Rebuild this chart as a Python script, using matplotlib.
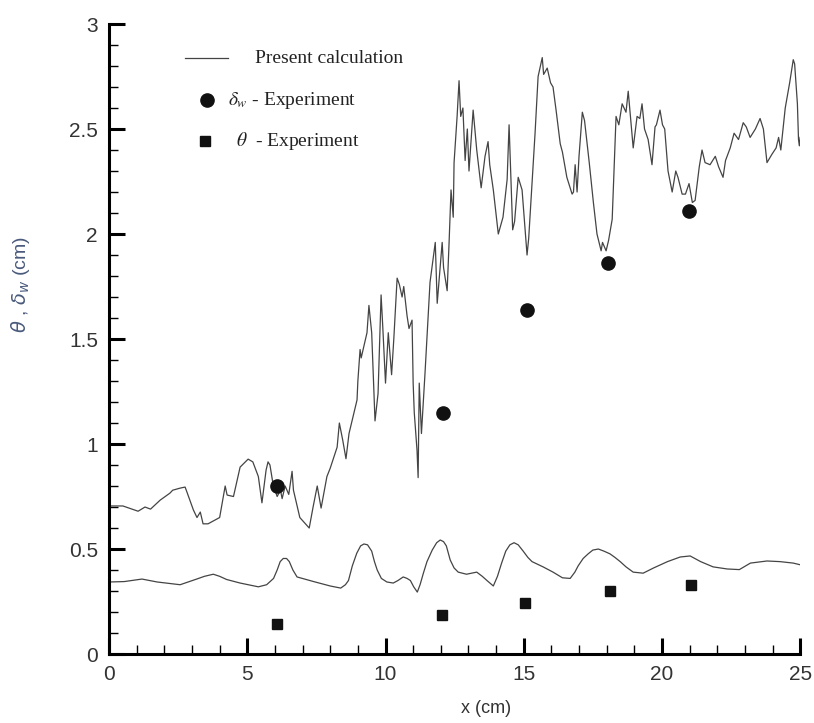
import matplotlib
matplotlib.use('Agg')
import matplotlib.pyplot as plt
from matplotlib.ticker import MultipleLocator

# present calculation, upper curve (delta_w)
x_delta = [0.0, 0.5, 1.05, 1.3, 1.5, 1.85, 2.2, 2.3, 2.57, 2.75, 2.82, 3.05, 3.18, 3.3, 3.4, 3.58,
           4.0, 4.2, 4.27, 4.5, 4.74, 5.03, 5.2, 5.4, 5.53, 5.68, 5.75, 5.82, 5.93, 6.08, 6.2, 6.26,
           6.37, 6.5, 6.62, 6.67, 6.9, 7.24, 7.38, 7.53, 7.67, 7.88, 8.0, 8.25, 8.33, 8.45, 8.57,
           8.68, 8.97, 9.0, 9.08, 9.12, 9.33, 9.4, 9.5, 9.62, 9.73, 9.84, 9.9, 10.0, 10.1, 10.22,
           10.3, 10.42, 10.5, 10.6, 10.66, 10.78, 10.85, 10.96, 11.0, 11.04, 11.14, 11.18, 11.22,
           11.3, 11.43, 11.61, 11.8, 11.87, 12.05, 12.1, 12.23, 12.3, 12.37, 12.45, 12.48, 12.59,
           12.66, 12.72, 12.8, 12.88, 12.96, 13.02, 13.17, 13.3, 13.46, 13.6, 13.71, 13.77, 13.9,
           14.08, 14.25, 14.4, 14.47, 14.6, 14.67, 14.8, 14.94, 15.12, 15.18, 15.41, 15.52, 15.67,
           15.72, 15.85, 15.97, 16.06, 16.17, 16.32, 16.4, 16.56, 16.75, 16.8, 16.86, 16.93, 17.0,
           17.12, 17.2, 17.37, 17.52, 17.65, 17.8, 17.85, 17.98, 18.07, 18.2, 18.34, 18.44, 18.56,
           18.7, 18.78, 18.86, 18.96, 19.1, 19.2, 19.28, 19.37, 19.5, 19.64, 19.75, 19.8, 19.93,
           20.02, 20.1, 20.22, 20.37, 20.5, 20.58, 20.73, 20.85, 20.98, 21.1, 21.2, 21.35, 21.45,
           21.56, 21.74, 21.93, 22.05, 22.21, 22.3, 22.47, 22.61, 22.77, 22.94, 23.05, 23.19,
           23.38, 23.55, 23.67, 23.8, 23.98, 24.13, 24.22, 24.3, 24.46, 24.62, 24.75, 24.8, 24.9,
           24.94, 24.97, 25.0]
y_delta = [0.705, 0.705, 0.68, 0.70, 0.69, 0.733, 0.766, 0.78, 0.79, 0.795, 0.77, 0.686, 0.65, 0.676,
           0.62, 0.62, 0.65, 0.80, 0.757, 0.75, 0.89, 0.928, 0.915, 0.845, 0.72, 0.876, 0.915, 0.90,
           0.81, 0.75, 0.78, 0.74, 0.80, 0.76, 0.87, 0.78, 0.65, 0.60, 0.70, 0.80, 0.695, 0.845,
           0.885, 0.985, 1.10, 1.02, 0.93, 1.05, 1.21, 1.30, 1.45, 1.41, 1.53, 1.66, 1.53, 1.11,
           1.24, 1.71, 1.56, 1.29, 1.53, 1.33, 1.50, 1.79, 1.76, 1.70, 1.75, 1.61, 1.55, 1.59,
           1.29, 1.15, 0.97, 0.84, 1.29, 1.05, 1.34, 1.77, 1.96, 1.67, 1.96, 1.84, 1.73, 1.96,
           2.21, 2.08, 2.34, 2.56, 2.73, 2.56, 2.60, 2.35, 2.50, 2.30, 2.59, 2.40, 2.22, 2.37,
           2.44, 2.33, 2.21, 2.00, 2.08, 2.26, 2.52, 2.02, 2.06, 2.27, 2.21, 1.90, 1.98, 2.48,
           2.75, 2.84, 2.76, 2.79, 2.72, 2.70, 2.59, 2.43, 2.39, 2.27, 2.19, 2.20, 2.33, 2.20,
           2.37, 2.58, 2.54, 2.34, 2.15, 2.00, 1.92, 1.96, 1.92, 1.97, 2.07, 2.56, 2.52, 2.62,
           2.58, 2.68, 2.56, 2.41, 2.56, 2.55, 2.62, 2.50, 2.45, 2.33, 2.51, 2.52, 2.59, 2.52,
           2.50, 2.30, 2.20, 2.30, 2.27, 2.19, 2.19, 2.24, 2.15, 2.16, 2.32, 2.40, 2.34, 2.33,
           2.37, 2.32, 2.27, 2.35, 2.41, 2.48, 2.45, 2.53, 2.51, 2.46, 2.50, 2.55, 2.50, 2.34,
           2.38, 2.41, 2.46, 2.40, 2.60, 2.72, 2.83, 2.81, 2.62, 2.45, 2.42, 2.46]

# present calculation, lower curve (theta)
x_theta = [0.0, 0.55, 1.19, 1.74, 2.57, 3.17, 3.45, 3.77, 4.0, 4.25, 4.74, 5.4, 5.7, 5.95, 6.08,
           6.19, 6.3, 6.42, 6.52, 6.65, 6.8, 7.4, 8.0, 8.38, 8.55, 8.66, 8.8, 8.96, 9.1, 9.22,
           9.35, 9.5, 9.6, 9.7, 9.85, 10.05, 10.28, 10.45, 10.64, 10.78, 10.9, 11.02, 11.15, 11.25,
           11.37, 11.5, 11.69, 11.85, 11.98, 12.1, 12.2, 12.34, 12.48, 12.63, 12.93, 13.3, 13.5,
           13.67, 13.9, 14.05, 14.2, 14.35, 14.5, 14.65, 14.8, 14.98, 15.15, 15.3, 15.7, 16.06,
           16.4, 16.68, 16.85, 16.97, 17.15, 17.33, 17.5, 17.7, 17.9, 18.12, 18.3, 18.49, 18.7,
           18.96, 19.32, 19.7, 20.2, 20.66, 21.02, 21.4, 21.85, 22.36, 22.8, 23.2, 23.8, 24.27,
           24.75, 25.0]
y_theta = [0.343, 0.345, 0.357, 0.343, 0.33, 0.357, 0.37, 0.38, 0.37, 0.355, 0.338, 0.32, 0.33,
           0.36, 0.40, 0.44, 0.455, 0.455, 0.44, 0.40, 0.367, 0.345, 0.324, 0.314, 0.33, 0.35,
           0.42, 0.48, 0.515, 0.524, 0.52, 0.49, 0.44, 0.40, 0.36, 0.343, 0.338, 0.35, 0.367,
           0.36, 0.35, 0.32, 0.295, 0.33, 0.385, 0.44, 0.495, 0.53, 0.543, 0.535, 0.515, 0.448,
           0.41, 0.39, 0.38, 0.39, 0.37, 0.35, 0.324, 0.37, 0.433, 0.49, 0.52, 0.53, 0.52, 0.49,
           0.46, 0.44, 0.415, 0.39, 0.363, 0.36, 0.39, 0.42, 0.455, 0.477, 0.495, 0.50, 0.49,
           0.477, 0.46, 0.44, 0.415, 0.39, 0.385, 0.41, 0.44, 0.462, 0.467, 0.44, 0.415, 0.405,
           0.402, 0.433, 0.443, 0.44, 0.433, 0.425]

# experiments
x_exp_delta = [6.07, 12.08, 15.12, 18.05, 20.98]
y_exp_delta = [0.80, 1.15, 1.64, 1.86, 2.11]
x_exp_theta = [6.07, 12.05, 15.05, 18.13, 21.06]
y_exp_theta = [0.143, 0.186, 0.243, 0.30, 0.33]

fig = plt.figure(figsize=(8.14, 7.23), dpi=100)
ax = fig.add_axes([0.134, 0.0954, 0.849, 0.8714])

line_col = '#444444'
ax.plot(x_delta, y_delta, color=line_col, lw=0.9)
ax.plot(x_theta, y_theta, color=line_col, lw=0.9)
ax.plot(x_exp_delta, y_exp_delta, 'o', color='#111111', ms=9.5, ls='none')
ax.plot(x_exp_theta, y_exp_theta, 's', color='#111111', ms=7, ls='none')

ax.set_xlim(0, 25)
ax.set_ylim(0, 3)
ax.xaxis.set_major_locator(MultipleLocator(5))
ax.xaxis.set_minor_locator(MultipleLocator(1))
ax.yaxis.set_minor_locator(MultipleLocator(0.1))
ax.set_yticks([0, 0.5, 1, 1.5, 2, 2.5, 3])
ax.set_yticklabels(['0', '0.5', '1', '1.5', '2', '2.5', '3'])

for s in ['top', 'right']:
    ax.spines[s].set_visible(False)
for s in ['left', 'bottom']:
    ax.spines[s].set_linewidth(2.2)
ax.tick_params(which='major', direction='in', length=11.5, width=2.2, pad=8,
               labelsize=15, labelcolor='#333333')
ax.tick_params(which='minor', direction='in', length=6.5, width=1.0)
for lab in ax.get_xticklabels() + ax.get_yticklabels():
    lab.set_fontfamily('Liberation Sans')

ax.set_xlabel('x (cm)', fontsize=13, family='Liberation Sans', color='#333333')
ax.xaxis.set_label_coords(0.546, -0.073)
ax.set_ylabel(r'$\theta$ , $\delta_w$ (cm)', fontsize=14, family='Liberation Sans',
              color='#4a5a7c', math_fontfamily='dejavusans')
ax.yaxis.set_label_coords(-0.112, 0.586)

# hand-placed legend like the original
ax.plot([0.110, 0.172], [0.946, 0.946], transform=ax.transAxes, color=line_col, lw=0.9)
ax.plot([0.142], [0.879], 'o', transform=ax.transAxes, color='#111111', ms=9.5)
ax.plot([0.139], [0.814], 's', transform=ax.transAxes, color='#111111', ms=7)
ax.text(0.211, 0.946, 'Present calculation', transform=ax.transAxes, va='center',
        fontsize=14, family='Liberation Serif', color='#222222')
ax.text(0.172, 0.879, r'$\delta_w$ - Experiment', transform=ax.transAxes, va='center',
        fontsize=14, family='Liberation Serif', color='#222222', math_fontfamily='stix')
ax.text(0.184, 0.814, r'$\theta$  - Experiment', transform=ax.transAxes, va='center',
        fontsize=14, family='Liberation Serif', color='#222222', math_fontfamily='stix')

fig.savefig('out.png', dpi=100)
